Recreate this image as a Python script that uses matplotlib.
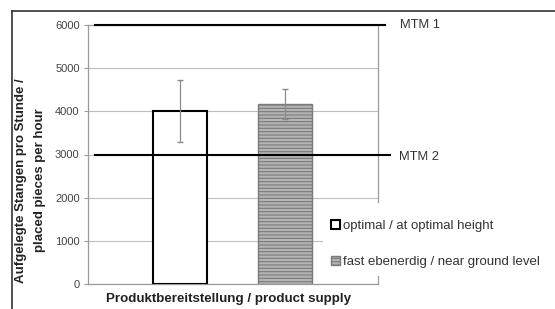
import matplotlib.pyplot as plt
from matplotlib.lines import Line2D
from matplotlib.patches import Rectangle

plt.rcParams['font.family'] = ['Liberation Sans', 'DejaVu Sans']
plt.rcParams['hatch.linewidth'] = 0.8

# Daten
kategorien = ['optimal / at optimal height', 'fast ebenerdig / near ground level']
werte = [4000, 4170]
fehler = [720, 350]
mtm_werte = [6000, 3000]
mtm_namen = ['MTM 1', 'MTM 2']
y_ticks = [0, 1000, 2000, 3000, 4000, 5000, 6000]

fig = plt.figure(figsize=(5.55, 3.09), dpi=100)
ax = fig.add_axes([88 / 555, 1 - 284 / 309, 290 / 555, 259 / 309])

pos = [0, 1]
ax.bar(pos[0], werte[0], width=0.514, color='white', edgecolor='black',
       linewidth=1.5, zorder=3, label=kategorien[0])
ax.bar(pos[1], werte[1], width=0.514, color='#b4b4b4', edgecolor='#7a7a7a',
       hatch='-----', linewidth=1.0, zorder=3, label=kategorien[1])
ax.errorbar(pos, werte, yerr=fehler, fmt='none', ecolor='#8a8a8a',
            elinewidth=0.9, capsize=2, zorder=4)

# MTM Linien
ax.axhline(mtm_werte[0], xmin=0.024, xmax=1.024, color='black', lw=1.5,
           clip_on=False, zorder=5)
ax.axhline(mtm_werte[1], xmin=0.024, xmax=1.041, color='black', lw=1.5,
           clip_on=False, zorder=5)
ax.text(1.076, mtm_werte[0], mtm_namen[0], transform=ax.get_yaxis_transform(),
        fontsize=9.3, va='center', ha='left', color='#333333')
ax.text(1.072, mtm_werte[1] - 50, mtm_namen[1], transform=ax.get_yaxis_transform(),
        fontsize=9.3, va='center', ha='left', color='#333333')

ax.set_xlim(-0.876, 1.886)
ax.set_ylim(0, 6000)
ax.set_yticks(y_ticks)
ax.set_yticklabels([str(t) for t in y_ticks], fontsize=8, color='#444444')
ax.set_xticks([])
ax.grid(axis='y', color='#bdbdbd', lw=0.8, zorder=0)
for s in ['left', 'right', 'bottom', 'top']:
    ax.spines[s].set_color('#9a9a9a')
    ax.spines[s].set_linewidth(0.9)
ax.tick_params(axis='y', length=3, color='#9a9a9a', pad=3)

ax.set_xlabel('Produktbereitstellung / product supply', fontsize=9.6,
              fontweight='bold', color='#222222')
ax.xaxis.set_label_coords(0.486, -0.035)
ax.set_ylabel('Aufgelegte Stangen pro Stunde /\nplaced pieces per hour',
              fontsize=9.5, fontweight='bold', linespacing=1.75, color='#222222')
ax.yaxis.set_label_coords(-0.145, 0.40)

# weisser Hintergrund der Legende
ax.add_patch(Rectangle((0.81, 0.03), 1.0, 0.283, transform=ax.transAxes,
                       facecolor='white', edgecolor='none', clip_on=False,
                       zorder=5.5))
leg = ax.legend(loc='upper left', bbox_to_anchor=(0.815, 0.272),
                fontsize=9.5, frameon=False, handlelength=0.65,
                handleheight=0.65, handletextpad=0.25, labelspacing=1.8,
                borderpad=0.5, borderaxespad=0)
leg.set_zorder(6)
for t in leg.get_texts():
    t.set_color('#333333')

# Rahmen um die Grafik
fig.add_artist(Line2D([12 / 555, 1], [1 - 11 / 309, 1 - 11 / 309],
                      color='#333333', lw=1.2))
fig.add_artist(Line2D([12 / 555, 12 / 555], [0, 1 - 11 / 309],
                      color='#333333', lw=1.2))

fig.savefig('out.png', dpi=100)
